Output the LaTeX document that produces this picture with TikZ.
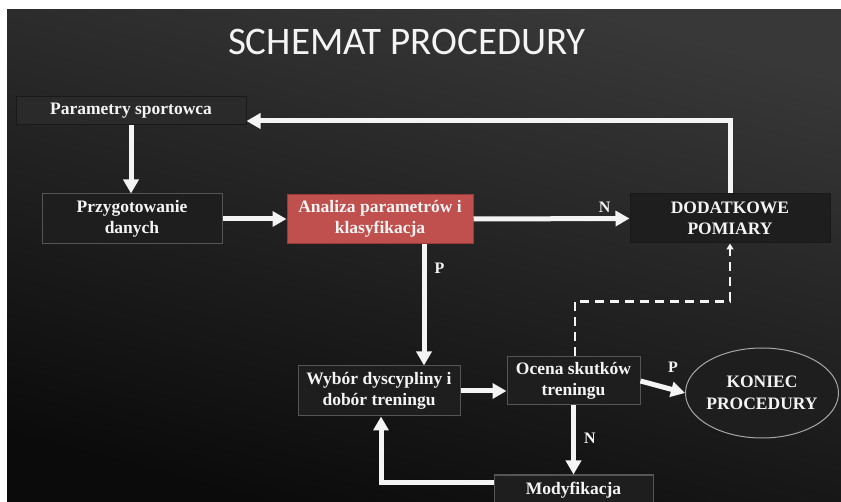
\documentclass[tikz,border=0pt]{standalone}
\usepackage{fontspec}
\setmainfont{Liberation Serif}
\newfontfamily\titlefont{Carlito}
\usetikzlibrary{arrows.meta,shapes.geometric,calc}

\definecolor{bgtop}{HTML}{383838}
\definecolor{bgbot}{HTML}{0B0B0B}
\definecolor{boxfill}{HTML}{1E1E1E}
\definecolor{boxedge}{HTML}{555555}
\definecolor{redfill}{HTML}{C0504D}
\definecolor{rededge}{HTML}{9A3A38}
\definecolor{ink}{HTML}{F4F4F4}

\tikzset{
  boxtxt/.style={font=\fontsize{17.5}{21}\selectfont\bfseries, text=ink, align=center},
  plainbox/.style={boxtxt, rectangle, draw=boxedge, fill=boxfill, line width=1pt, inner sep=0pt},
  darkbox/.style={boxtxt, rectangle, draw=black!90, fill=bgtop!75!black, line width=1pt, inner sep=0pt},
  redbox/.style={boxtxt, rectangle, draw=rededge, fill=redfill, line width=1pt, inner sep=0pt},
  endoval/.style={boxtxt, ellipse, draw=gray!70, fill=boxfill, line width=1pt, inner xsep=-8pt, inner ysep=0pt},
  flow/.style={draw=ink, line width=5pt, -{Triangle[width=15pt,length=14pt]}},
  dashflow/.style={draw=ink, line width=2.5pt, dash pattern=on 9pt off 6pt, -{Triangle[width=7pt,length=6pt]}},
  lbl/.style={font=\fontsize{16}{19}\selectfont\bfseries, text=ink, inner sep=0pt}
}

\begin{document}
\begin{tikzpicture}[x=1pt,y=-1pt]
  % page and background
  \fill[white] (0,0) rectangle (841,502);
  \useasboundingbox (0,0) rectangle (841,502);
  \shade[top color=bgtop, bottom color=bgbot, shading angle=-15] (7,10) rectangle (841,502);

  % title
  \node (title) at (407,42) {\titlefont\fontsize{39}{44}\selectfont\color{ink}SCHEMAT PROCEDURY};

  % blocks
  \node[darkbox, minimum width=230pt, minimum height=28pt] (par) at (131,111) {Parametry sportowca};
  \node[plainbox, minimum width=180pt, minimum height=50pt] (prz) at (132,219) {Przygotowanie\\danych};
  \node[redbox, minimum width=186pt, minimum height=49pt] (ana) at (380,219) {Analiza parametrów i\\klasyfikacja};
  \node[darkbox, fill=boxfill, minimum width=200pt, minimum height=49pt] (dod) at (730,218.5) {DODATKOWE\\POMIARY};
  \node[plainbox, minimum width=162pt, minimum height=50pt] (wyb) at (379,391) {Wybór dyscypliny i\\dobór treningu};
  \node[plainbox, minimum width=133pt, minimum height=48pt] (oce) at (573.5,381) {Ocena skutków\\treningu};
  \node[endoval, font=\fontsize{17.5}{22}\selectfont\bfseries, minimum width=153pt, minimum height=90pt] (kon) at (762,393) {KONIEC\\PROCEDURY};
  \node[plainbox, minimum width=159pt, minimum height=30pt] (mod) at (573.5,490) {Modyfikacja};

  % connectors
  \draw[flow] (par.south) -- (par.south |- prz.north);
  \draw[flow] (prz.east) -- (ana.west);
  \draw[flow] (ana.east) -- (dod.west) node[lbl, pos=0.84, above=4pt] (lblN1) {N};
  \draw[flow] (dod.north) |- ([yshift=-10pt]par.east);
  \draw[flow] ([xshift=44pt]ana.south) -- ([xshift=44pt]ana.south |- wyb.north)
     node[lbl, pos=0.2, right=8pt] (lblP1) {P};
  \draw[flow] (wyb.east) -- (wyb.east -| oce.west);
  \draw[flow] (oce.east) -- (kon.west);
  \node[lbl] (lblP2) at (673,367) {P};
  \draw[flow] (oce.south) -- (mod.north) node[lbl, pos=0.48, right=8pt] (lblN2) {N};
  \draw[flow] ([yshift=8pt]mod.west) -| ([xshift=2pt]wyb.south);
  \draw[dashflow] ([xshift=1.5pt]oce.north) -- ++(0,-55) -| (dod.south);
\end{tikzpicture}
\end{document}
